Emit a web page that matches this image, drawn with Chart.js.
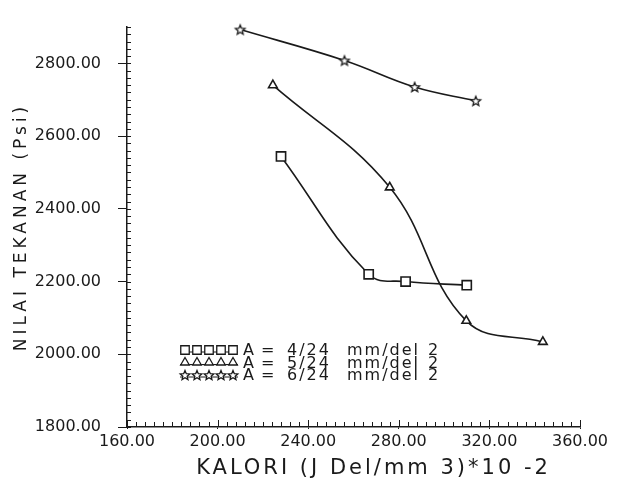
<!DOCTYPE html>
<html lang="en">

<head>
    <meta charset="UTF-8">
    <title>Nilai Tekanan vs Kalori</title>
    <script src="https://cdn.jsdelivr.net/npm/chart.js@4"></script>
    <style>
        html, body { margin: 0; padding: 0; background: #fff; }
        #wrap { width: 619px; height: 485px; position: relative; }
    </style>
</head>

<body>
    <div id="wrap">
        <canvas id="chart"></canvas>
    </div>

    <script>
        // data
        const kalori4 = [228, 266.7, 283, 310];
        const tekanan4 = [2544, 2220, 2200, 2190];
        const kalori5 = [224.4, 276, 309.8, 343.6];
        const tekanan5 = [2740, 2459, 2092, 2034];
        const kalori6 = [210, 256, 287, 314];
        const tekanan6 = [2893, 2808, 2735, 2697];

        const xTicks = [160, 200, 240, 280, 320, 360];
        const yTicks = [1800, 2000, 2200, 2400, 2600, 2800];
        const legendParts = [
            ['A', '=', '4/24', 'mm/del', '2'],
            ['A', '=', '5/24', 'mm/del', '2'],
            ['A', '=', '6/24', 'mm/del', '2']
        ];
        const xTitle = 'KALORI (J Del/mm 3)*10 -2';
        const yTitle = 'NILAI TEKANAN (Psi)';

        const ink = '#1a1a1a';
        const font = 'DejaVu Sans';

        // outlined five point star, the library only has an asterisk
        function starMarker(r) {
            const c = document.createElement('canvas');
            const s = Math.ceil(r * 2 + 4);
            c.width = s; c.height = s;
            const g = c.getContext('2d');
            g.translate(s / 2, s / 2 + 0.5);
            g.beginPath();
            for (let i = 0; i < 10; i++) {
                const rad = i % 2 ? r * 0.45 : r;
                const a = -Math.PI / 2 + i * Math.PI / 5;
                g.lineTo(Math.cos(a) * rad, Math.sin(a) * rad);
            }
            g.closePath();
            g.fillStyle = '#fff';
            g.fill();
            g.strokeStyle = ink;
            g.lineWidth = 1.3;
            g.stroke();
            return c;
        }
        const star = starMarker(5);
        const markers = ['rect', 'triangle', star];
        const legendRadius = [6, 5, 5];

        function toPoints(xs, ys) {
            return xs.map((x, i) => ({ x: x, y: ys[i] }));
        }

        function series(label, xs, ys, marker, radius) {
            return {
                label: label,
                data: toPoints(xs, ys),
                borderColor: ink,
                borderWidth: 1.6,
                backgroundColor: '#fff',
                pointStyle: marker,
                pointRadius: radius,
                pointBorderWidth: 1.6,
                pointBorderColor: ink,
                pointBackgroundColor: '#fff',
                tension: 0.4,
                clip: false
            };
        }

        // minor ticks, axis titles and the legend box inside the plot
        const extras = {
            id: 'extras',
            afterDraw(chart) {
                const ctx = chart.ctx;
                const xs = chart.scales.x, ys = chart.scales.y;
                const area = chart.chartArea;
                const bottom = ys.getPixelForValue(1800);
                const left = xs.getPixelForValue(160);
                ctx.save();
                ctx.strokeStyle = ink;
                ctx.lineWidth = 1;
                ctx.beginPath();
                for (let v = 1800; v <= 2900; v += 20) {
                    const py = Math.round(ys.getPixelForValue(v)) + 0.5;
                    ctx.moveTo(left, py);
                    ctx.lineTo(left + 4, py);
                }
                for (let v = 160; v <= 360; v += 4) {
                    const px = Math.round(xs.getPixelForValue(v)) + 0.5;
                    ctx.moveTo(px, bottom);
                    ctx.lineTo(px, bottom - (v % 40 === 0 ? 7 : 5));
                }
                ctx.stroke();

                ctx.fillStyle = ink;

                // axis titles
                ctx.textAlign = 'center';
                ctx.textBaseline = 'middle';
                ctx.font = '21px "' + font + '"';
                ctx.letterSpacing = '3px';
                ctx.fillText(xTitle, (area.left + area.right) / 2 + 20, 469);

                ctx.save();
                ctx.translate(22, (area.top + area.bottom) / 2);
                ctx.rotate(-Math.PI / 2);
                ctx.font = '17px "' + font + '"';
                ctx.letterSpacing = '4px';
                ctx.fillText(yTitle, 0, 0);
                ctx.restore();

                // legend
                ctx.textAlign = 'left';
                ctx.font = '16px "' + font + '"';
                ctx.letterSpacing = '2px';
                const textOffsets = [116, 134, 160, 220, 301];
                legendParts.forEach((parts, i) => {
                    const y = bottom - 77 + i * 12.5;
                    const x0 = area.left + 58;
                    ctx.beginPath();
                    ctx.moveTo(x0 - 5, y + 2);
                    ctx.lineTo(x0 + 53, y + 2);
                    ctx.lineWidth = 1;
                    ctx.stroke();
                    for (let k = 0; k < 5; k++) {
                        ctx.fillStyle = '#fff';
                        ctx.lineWidth = 1.3;
                        Chart.helpers.drawPoint(ctx, {
                            pointStyle: markers[i], radius: legendRadius[i], borderWidth: 1.3
                        }, x0 + k * 12, y);
                    }
                    ctx.fillStyle = ink;
                    parts.forEach((p, j) => ctx.fillText(p, area.left + textOffsets[j], y + 1));
                });
                ctx.restore();
            }
        };

        Chart.defaults.font.family = font;
        Chart.defaults.color = ink;

        new Chart(document.getElementById('chart'), {
            type: 'line',
            data: {
                datasets: [
                    series('A = 4/24 mm/del 2', kalori4, tekanan4, 'rect', 6.5),
                    series('A = 5/24 mm/del 2', kalori5, tekanan5, 'triangle', 5),
                    series('A = 6/24 mm/del 2', kalori6, tekanan6, star, 5)
                ]
            },
            options: {
                responsive: true,
                maintainAspectRatio: false,
                animation: false,
                layout: { padding: { top: 27, right: 39, left: 0, bottom: 0 } },
                plugins: {
                    legend: { display: false },
                    tooltip: { enabled: false }
                },
                scales: {
                    x: {
                        type: 'linear',
                        min: 160,
                        max: 360,
                        afterBuildTicks: s => { s.ticks = xTicks.map(v => ({ value: v })); },
                        afterFit: s => { s.height = 58; },
                        border: { display: true, color: ink, width: 1.5 },
                        grid: { drawOnChartArea: false, drawTicks: true, tickLength: 2, color: ink },
                        ticks: {
                            font: { size: 16 },
                            padding: 3,
                            maxRotation: 0,
                            callback: v => v.toFixed(2)
                        }
                    },
                    y: {
                        type: 'linear',
                        min: 1800,
                        max: 2900,
                        afterBuildTicks: s => { s.ticks = yTicks.map(v => ({ value: v })); },
                        afterFit: s => { s.width = 127; },
                        border: { display: true, color: ink, width: 1.5 },
                        grid: { drawOnChartArea: false, drawTicks: true, tickLength: 9, color: ink },
                        ticks: {
                            font: { size: 16 },
                            padding: 17,
                            callback: v => v.toFixed(2)
                        }
                    }
                }
            },
            plugins: [extras]
        });
    </script>
</body>

</html>
